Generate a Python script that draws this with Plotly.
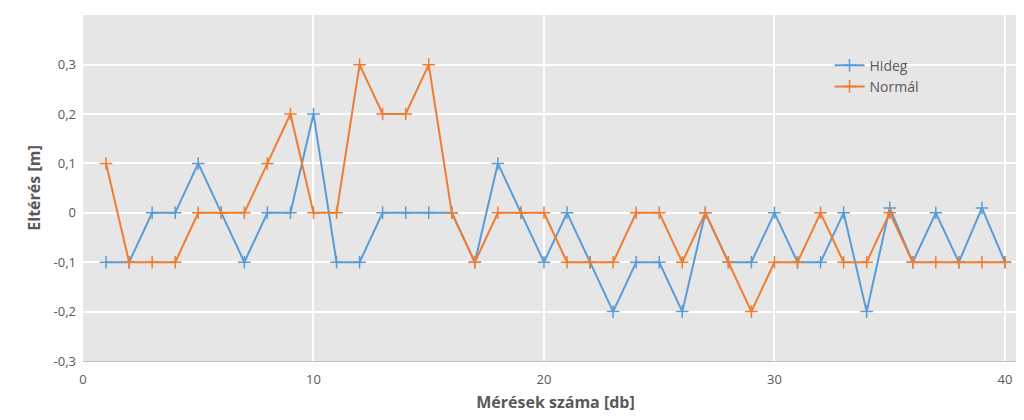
import plotly.graph_objects as go

x = list(range(1, 41))
hideg = [-0.1,-0.1,0,0,0.1,0,-0.1,0,0,0.2,-0.1,-0.1,0,0,0,0,-0.1,0.1,0,-0.1,
         0,-0.1,-0.2,-0.1,-0.1,-0.2,0,-0.1,-0.1,0,-0.1,-0.1,0,-0.2,0.01,-0.1,0,-0.1,0.01,-0.1]
normal = [0.1,-0.1,-0.1,-0.1,0,0,0,0.1,0.2,0,0,0.3,0.2,0.2,0.3,0,-0.1,0,0,0,
          -0.1,-0.1,-0.1,0,0,-0.1,0,-0.1,-0.2,-0.1,-0.1,0,-0.1,-0.1,0,-0.1,-0.1,-0.1,-0.1,-0.1]
yticks = [-0.3,-0.2,-0.1,0,0.1,0.2,0.3,0.4]
yticktext = ["-0,3","-0,2","-0,1","0","0,1","0,2","0,3","0,4"]

fig = go.Figure()
fig.add_trace(go.Scatter(x=x, y=hideg, name="Hideg", mode="lines+markers",
    line=dict(color="#5b9bd5", width=2), marker=dict(symbol="cross-thin-open", size=9, line=dict(color="#5b9bd5", width=1.5))))
fig.add_trace(go.Scatter(x=x, y=normal, name="Normál", mode="lines+markers",
    line=dict(color="#ed7d31", width=2), marker=dict(symbol="cross-thin-open", size=9, line=dict(color="#ed7d31", width=1.5))))
fig.update_layout(
    width=1024, height=420, margin=dict(l=75, r=4, t=7, b=67),
    paper_bgcolor="white", plot_bgcolor="#e7e6e6",
    font=dict(family="Open Sans, Liberation Sans, sans-serif", size=13, color="#595959"),
    legend=dict(x=0.79, y=0.9, xanchor="left", yanchor="top", bgcolor="rgba(0,0,0,0)",
                tracegroupgap=28, font=dict(size=14, color="#595959")),
    xaxis=dict(range=[0, 41], tickvals=[0,10,20,30,40], showgrid=True, gridcolor="white", gridwidth=1.5,
               zeroline=False, showline=True, linecolor="#bfbfbf", ticklabelstandoff=6,
               title=dict(text="<b>Mérések száma [db]</b>", font=dict(size=16, color="#595959"), standoff=10)),
    yaxis=dict(range=[-0.3, 0.4005], tickvals=yticks, ticktext=yticktext, showgrid=True, gridcolor="white",
               gridwidth=1.5, zeroline=False, ticklabelstandoff=6,
               title=dict(text="<b>Eltérés [m]</b>", font=dict(size=16, color="#595959"), standoff=8)),
)
fig.write_html("out.html")
